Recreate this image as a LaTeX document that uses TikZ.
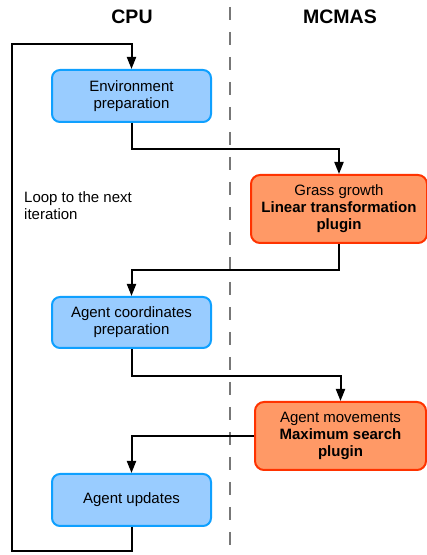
\documentclass[tikz,border=0pt]{standalone}
\usepackage{fontspec}
\setmainfont{Liberation Sans}
\usetikzlibrary{arrows.meta}
\definecolor{bfill}{HTML}{99CCFF}
\definecolor{bdraw}{HTML}{0FA0FF}
\definecolor{ofill}{HTML}{FF9966}
\definecolor{odraw}{HTML}{FF3300}
\definecolor{dashgray}{HTML}{777777}
\begin{document}
\begin{tikzpicture}[x=1pt,y=1pt,
  cpubox/.style={draw=bdraw,fill=bfill,line width=2pt,rounded corners=8pt,
    minimum width=159pt,align=center,inner sep=0pt,
    font=\fontsize{15}{17}\selectfont},
  gpubox/.style={draw=odraw,fill=ofill,line width=2pt,rounded corners=9pt,
    minimum height=68pt,align=center,inner sep=0pt,
    font=\fontsize{15}{17}\selectfont},
  arr/.style={line width=2pt,-{Triangle[length=12pt,width=9pt]}},
  title/.style={font=\fontsize{19.5}{22}\selectfont\bfseries}]
\useasboundingbox (0,0) rectangle (427,555);
\draw[dashgray,line width=1.6pt,dash pattern=on 13pt off 12pt] (230,548) -- (230,0);
\node[title] (cpu) at (132,538) {CPU};
\node[title] (mcmas) at (340,538) {MCMAS};
\node[cpubox,minimum height=52pt] (b1) at (131.5,459) {Environment\\preparation};
\node[gpubox,minimum width=176pt] (b2) at (339,346) {Grass growth\\\textbf{Linear transformation}\\\textbf{plugin}};
\node[cpubox,minimum height=51pt] (b3) at (131.5,232.5) {Agent coordinates\\preparation};
\node[gpubox,minimum width=171pt] (b4) at (340.5,119) {Agent movements\\\textbf{Maximum search}\\\textbf{plugin}};
\node[cpubox,minimum height=52pt] (b5) at (131.5,55) {Agent updates};
\node[anchor=north west,inner sep=0pt,align=left,font=\fontsize{15}{17.3}\selectfont] (loop) at (24,364) {Loop to the next\\iteration};
\coordinate (lt) at (12,511);
\draw[arr] (b1.south) -- ++(0,-26) -| (b2.north);
\draw[arr] (b2.south) -- ++(0,-26) -| (b3.north);
\draw[arr] (b3.south) -- ++(0,-27) -| (b4.north);
\draw[arr] (b4.west) -| (b5.north);
\draw[arr] (b5.south) -- ++(0,-24) -| (lt) -| (b1.north);
\end{tikzpicture}
\end{document}
